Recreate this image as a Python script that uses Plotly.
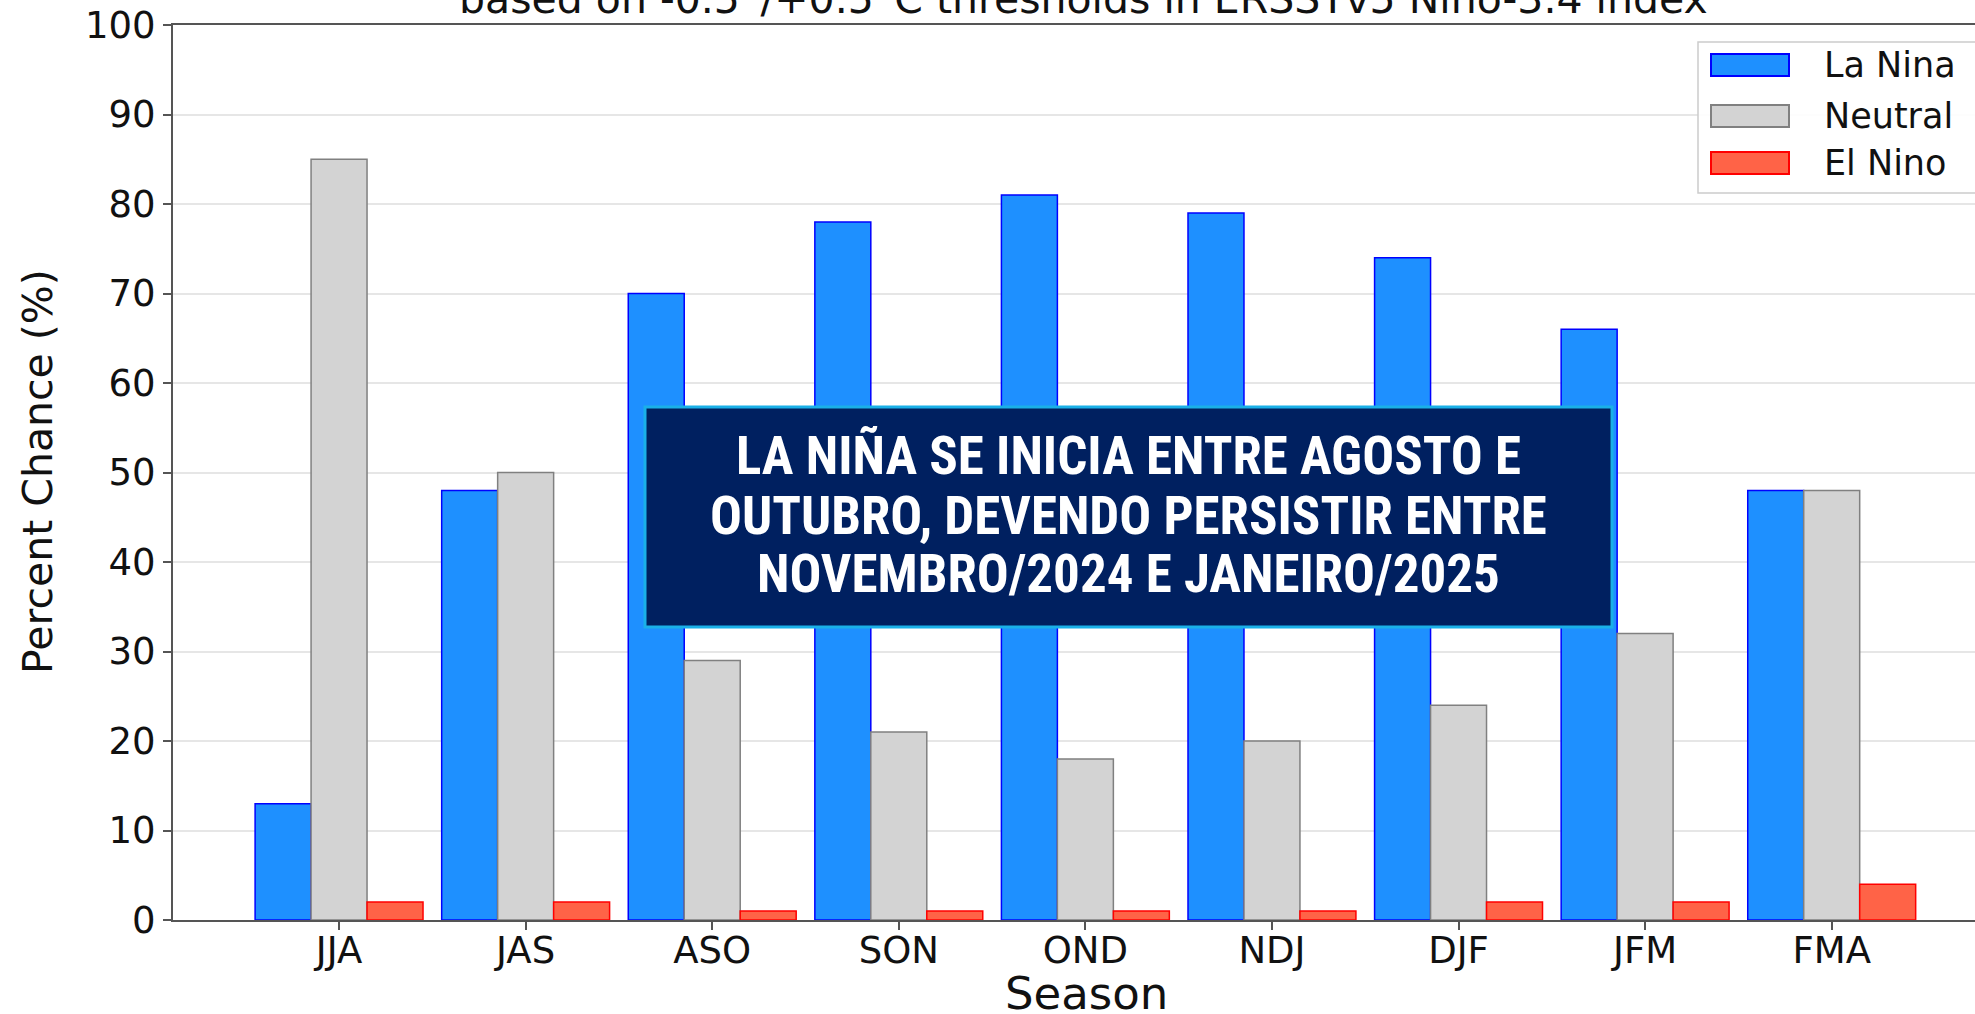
import plotly.graph_objects as go

seasons = ["JJA", "JAS", "ASO", "SON", "OND", "NDJ", "DJF", "JFM", "FMA"]
la_nina = [13, 48, 70, 78, 81, 79, 74, 66, 48]
neutral = [85, 50, 29, 21, 18, 20, 24, 32, 48]
el_nino = [2, 2, 1, 1, 1, 1, 2, 2, 4]
series_names = ["La Nina", "Neutral", "El Nino"]

title_text = "based on -0.5\u00b0/+0.5\u00b0C thresholds in ERSSTv5 Nino-3.4 index"
callout_lines = [
    "LA NIÑA SE INICIA ENTRE AGOSTO E",
    "OUTUBRO, DEVENDO PERSISTIR ENTRE",
    "NOVEMBRO/2024 E JANEIRO/2025",
]

fills = {"La Nina": "#1E90FF", "Neutral": "#D3D3D3", "El Nino": "#FF6347"}
edges = {"La Nina": "#0000FF", "Neutral": "#808080", "El Nino": "#FF0000"}

W, H = 1975, 1014
ML, MR, MT, MB = 173, 0, 25, 94

fig = go.Figure()
for name, vals in zip(series_names, [la_nina, neutral, el_nino]):
    fig.add_trace(go.Bar(x=seasons, y=vals, name=name,
                         marker=dict(color=fills[name], line=dict(color=edges[name], width=1.5))))

font_main = "DejaVu Sans"
axis_col = "#555555"
txt_col = "#111111"

fig.update_layout(
    width=W, height=H,
    margin=dict(l=ML, r=MR, t=MT, b=MB, pad=0),
    paper_bgcolor="white", plot_bgcolor="white",
    barmode="group", bargap=0.1, bargroupgap=0,
    font=dict(family=font_main, color=txt_col),
    showlegend=False,
    xaxis=dict(
        type="category", range=[-0.89, 8.768],
        showline=True, linecolor=axis_col, linewidth=2, mirror=True,
        ticks="outside", ticklen=8, tickwidth=2, tickcolor=axis_col,
        tickfont=dict(family=font_main, size=37, color=txt_col),
        ticklabelstandoff=-11,
        showgrid=False,
    ),
    yaxis=dict(
        range=[0, 100], tickmode="array", tickvals=list(range(0, 101, 10)),
        showline=True, linecolor=axis_col, linewidth=2, mirror=False,
        ticks="outside", ticklen=8, tickwidth=2, tickcolor=axis_col,
        tickfont=dict(family=font_main, size=37, color=txt_col),
        showgrid=True, gridcolor="#e6e6e6", gridwidth=1.5,
        zeroline=False,
    ),
)

plot_w = W - ML - MR
plot_h = H - MT - MB

def px_x(px):
    return (px - ML) / plot_w

def px_y(py):
    return 1 - (py - MT) / plot_h

# Title (clipped at top of the image)
fig.add_annotation(text=title_text, xref="paper", yref="paper",
                   x=px_x(1083), y=1, xanchor="center", yanchor="bottom", yshift=0,
                   showarrow=False, font=dict(family=font_main, size=41, color=txt_col))
# Axis titles
fig.add_annotation(text="Season", xref="paper", yref="paper",
                   x=px_x(1086), y=px_y(993), xanchor="center", yanchor="middle",
                   showarrow=False, font=dict(family=font_main, size=45, color=txt_col))
fig.add_annotation(text="Percent Chance (%)", xref="paper", yref="paper",
                   x=px_x(38), y=px_y(472), xanchor="center", yanchor="middle", textangle=-90,
                   showarrow=False, font=dict(family=font_main, size=41, color=txt_col))

# Legend (drawn to match the large swatches of the reference)
fig.add_shape(type="path", xref="paper", yref="paper",
              path="M {a},{b} L {c},{b} L {c},{d} L {a},{d} Z".format(
                  a=px_x(1698), b=px_y(42), c=px_x(1985), d=px_y(193)),
              fillcolor="rgba(255,255,255,0.9)", line=dict(color="#cccccc", width=1.5), layer="above")
legend_y = [65, 116, 163]
for name, ly in zip(series_names, legend_y):
    fig.add_shape(type="rect", xref="paper", yref="paper",
                  x0=px_x(1711), x1=px_x(1789), y0=px_y(ly + 11), y1=px_y(ly - 11),
                  fillcolor=fills[name], line=dict(color=edges[name], width=2), layer="above")
    fig.add_annotation(text=name, xref="paper", yref="paper",
                       x=px_x(1822), y=px_y(ly), xanchor="left", yanchor="middle",
                       showarrow=False, font=dict(family=font_main, size=35, color=txt_col))

# Callout box
fig.add_shape(type="rect", xref="paper", yref="paper",
              x0=px_x(645), x1=px_x(1612), y0=px_y(627), y1=px_y(407),
              fillcolor="#002060", line=dict(color="#1AB0E8", width=3), layer="above")
line_y = [456, 516, 574]
for txt, ly in zip(callout_lines, line_y):
    fig.add_annotation(text=txt, xref="paper", yref="paper",
                       x=px_x(1128), y=px_y(ly), xanchor="center", yanchor="middle",
                       showarrow=False,
                       font=dict(family="Noto Sans Condensed, Roboto Condensed, DejaVu Sans Condensed, Liberation Sans Narrow, Roboto",
                                 size=53, color="white", weight=700))

fig.write_html("out.html", config={"displayModeBar": False},
               post_script="document.body.style.margin='0px';document.body.style.overflow='hidden';")
